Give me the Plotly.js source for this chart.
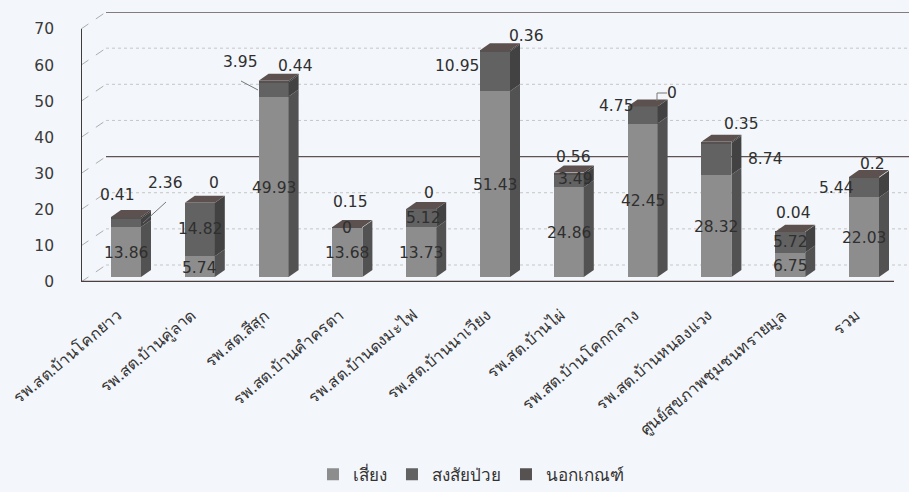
<!DOCTYPE html>
<html>
<head>
<meta charset="utf-8">
<script src="https://cdn.plot.ly/plotly-3.0.1.min.js"></script>
<style>html,body{margin:0;padding:0;background:#f3f6fa}</style>
</head>
<body>
<div id="chart" style="width:909px;height:492px"></div>
<script>
const categories = ['รพ.สต.บ้านโคกยาว','รพ.สต.บ้านคู่ลาด','รพ.สต.สีสุก','รพ.สต.บ้านคำครตา','รพ.สต.บ้านดงมะไฟ','รพ.สต.บ้านนาเวียง','รพ.สต.บ้านไผ่','รพ.สต.บ้านโคกกลาง','รพ.สต.บ้านหนองแวง','ศูนย์สุขภาพชุมชนทรายมูล','รวม'];
const risk = [13.86,5.74,49.93,13.68,13.73,51.43,24.86,42.45,28.32,6.75,22.03];
const suspected = [2.36,14.82,3.95,0,5.12,10.95,3.49,4.75,8.74,5.72,5.44];
const outside = [0.41,0,0.44,0.15,0,0.36,0.56,0,0.35,0.04,0.2];
const seriesNames = ['เสี่ยง','สงสัยป่วย','นอกเกณฑ์'];
const yTicks = [0,10,20,30,40,50,60,70];

// Label nudges in pixels from each segment's centre [right, up]
const suspectedNudge = [[39,40],[0,0],[-33,27],[0,0],[2,0],[-38,5],[7,2],[-26,9],[49,0],[0,0],[-28,0]];
const outsideNudge = [[-9,23],[14,20],[22,15],[3,25],[8,16],[31,15],[5,17],[29,13],[25,18],[3,19],[8,13]];

const W = 909, H = 492;
const PLOT = {l:81, t:12, b:282, r:909};
const pxPerCat = 73.8, pxPerVal = 3.614;
const catAt = px => (px - 126) / pxPerCat;
const yTop = (PLOT.b - PLOT.t) / pxPerVal;
const barLift = 5 / pxPerVal;           // bars stand a little behind the front edge
const barW = 30 / pxPerCat;
const depthX = 10 / pxPerCat, depthY = 7 / pxPerVal;
const wallX = 25 / pxPerCat, wallY = 17 / pxPerVal;

const fronts = ['#8d8d8d','#626262','#565252'];
const sides = ['#525252','#424242','#3c3a3a'];
const capColor = '#5c514e';
const ink = '#3a3a3a';
const NUM_FONT = 'DejaVu Sans, Verdana, sans-serif';
const THAI_FONT = 'Noto Sans, Liberation Sans, sans-serif';

const idx = categories.map((_, i) => i);
const stacks = [risk, suspected, outside];
const traces = [];

// Back wall and floor guides
function guide(xs, ys, color, width, dash) {
  traces.push({type:'scatter', mode:'lines', x:xs, y:ys, xaxis:'x', yaxis:'y',
    line:{color, width, dash}, hoverinfo:'skip', showlegend:false, cliponaxis:false});
}
const rightEdge = catAt(PLOT.r), leftEdge = catAt(PLOT.l), frontEnd = catAt(894);
yTicks.forEach(v => {
  const heavy = v === 30 || v === 70;
  guide([leftEdge, leftEdge + wallX], [v, v + wallY], '#adadad', 1, 'dash');
  guide([leftEdge + wallX, rightEdge], [v + wallY, v + wallY],
        heavy ? '#5f5252' : '#c6c6c6', heavy ? 1.4 : 1, heavy ? 'solid' : 'dot');
});
guide([leftEdge, leftEdge], [0, 70], '#3d3d3d', 2, 'solid');
guide([leftEdge, frontEnd], [0, 0], '#4a4040', 2.6, 'solid');

// Front faces of the stacked columns
stacks.forEach((vals, s) => {
  traces.push({type:'bar', name:seriesNames[s], x:idx, y:vals, xaxis:'x', yaxis:'y2',
    width:barW, marker:{color:fronts[s], line:{width:0}}, hoverinfo:'y+name'});
});

// Right-hand side faces and top caps, stepped off the same stacked values
function poly(xs, ys, color) {
  traces.push({type:'scatter', mode:'lines', x:xs, y:ys, xaxis:'x', yaxis:'y2', fill:'toself',
    fillcolor:color, line:{width:0, color}, hoverinfo:'skip', showlegend:false, cliponaxis:false});
}
idx.forEach(i => {
  const r = i + barW / 2, l = i - barW / 2;
  let base = 0;
  stacks.forEach((vals, s) => {
    const top = base + vals[i];
    if (vals[i] > 0) {
      poly([r, r + depthX, r + depthX, r, r],
           [base, base + depthY, top + depthY, top, base], sides[s]);
    }
    base = top;
  });
  poly([l, r, r + depthX, l + depthX, l], [base, base, base + depthY, base + depthY, base], capColor);
});

// Value labels anchored at the centre of each segment
const annotations = [];
idx.forEach(i => {
  let base = 0;
  stacks.forEach((vals, s) => {
    const nudge = s === 0 ? [0, -1] : (s === 1 ? suspectedNudge[i] : outsideNudge[i]);
    annotations.push({xref:'x', yref:'y2', x:i, y:base + vals[i] / 2, text:String(vals[i]),
      showarrow:false, xshift:nudge[0], yshift:nudge[1],
      font:{family:NUM_FONT, size:15.5, color:'#2f2f2f'}});
    base += vals[i];
  });
});

// Leader lines from displaced labels back to their segments
const leaders = [
  [[166,202],[143,223]],
  [[241,81],[258,90]],
  [[667,93],[657,93],[657,101]]
];
const shapes = leaders.map(pts => ({
  type:'path', xref:'paper', yref:'paper', layer:'above',
  path:pts.map((p, k) => (k ? 'L' : 'M') + ((p[0] - PLOT.l) / (PLOT.r - PLOT.l)) + ',' + ((PLOT.b - p[1]) / (PLOT.b - PLOT.t))).join(' '),
  line:{color:'#777', width:1}
}));

const layout = {
  width:W, height:H,
  margin:{l:PLOT.l, r:W - PLOT.r, t:PLOT.t, b:H - PLOT.b, pad:0},
  paper_bgcolor:'#f3f6fa', plot_bgcolor:'rgba(0,0,0,0)',
  barmode:'stack', showlegend:true, bargap:0,
  xaxis:{type:'linear', range:[leftEdge, rightEdge], tickmode:'array', tickvals:idx, ticktext:categories,
    tickangle:-40, ticks:'', ticklabelstandoff:20, ticklabelshift:-8, showgrid:false, zeroline:false, showline:false,
    tickfont:{family:THAI_FONT, size:16, color:'#333333'}},
  yaxis:{range:[0, yTop], tickmode:'array', tickvals:yTicks, ticks:'', ticklabelstandoff:26,
    showgrid:false, zeroline:false, showline:false,
    tickfont:{family:NUM_FONT, size:15.5, color:ink}},
  yaxis2:{overlaying:'y', range:[-barLift, yTop - barLift], visible:false},
  legend:{orientation:'h', x:0.471, xanchor:'center', xref:'paper', yref:'container', y:0.035, yanchor:'middle',
    traceorder:'normal', itemwidth:30, font:{family:THAI_FONT, size:17, color:'#333333'}, bgcolor:'rgba(0,0,0,0)'},
  annotations, shapes
};

Plotly.newPlot('chart', traces, layout, {displayModeBar:false, responsive:false});
</script>
</body>
</html>
